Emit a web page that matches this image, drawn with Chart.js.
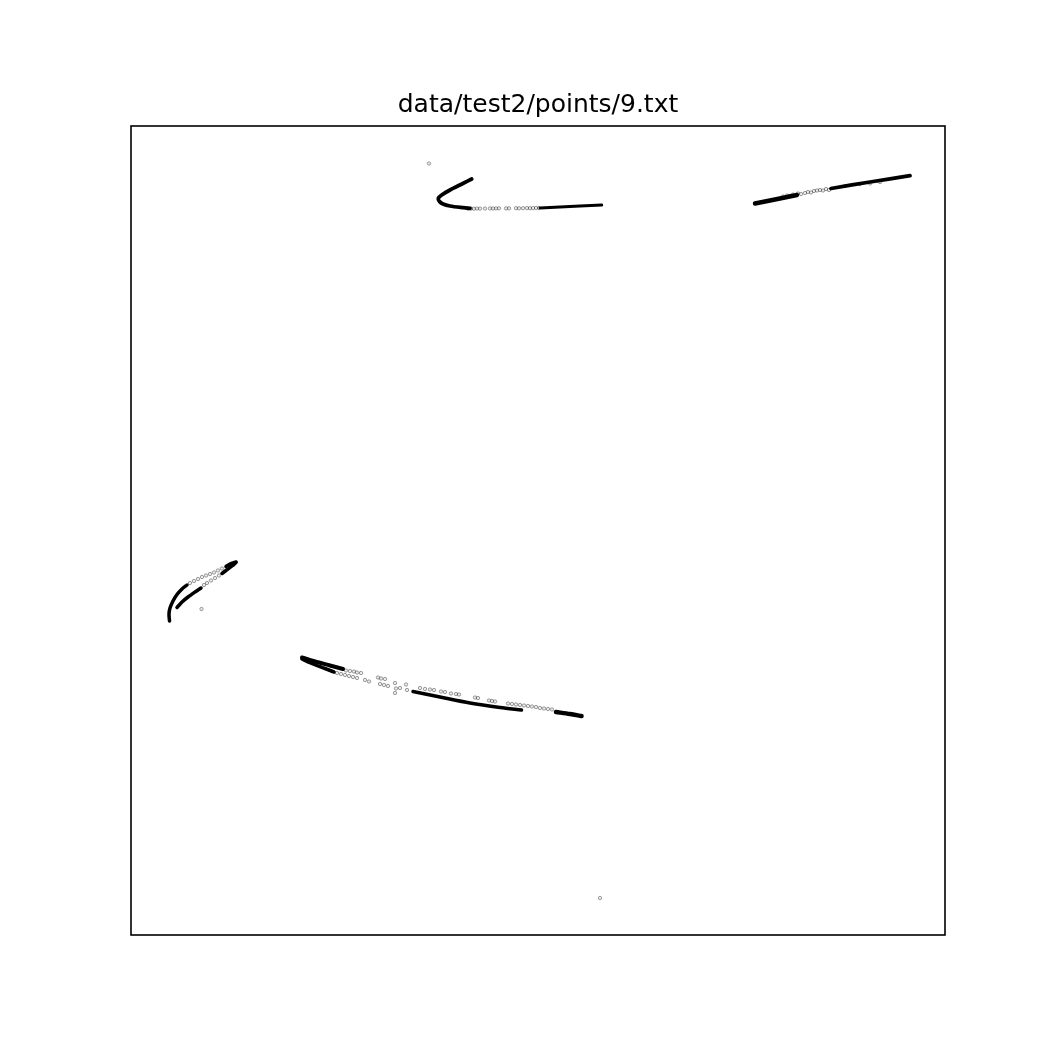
<!DOCTYPE html>
<html>
<head>
<meta charset="utf-8">
<script src="https://cdn.jsdelivr.net/npm/chart.js@4"></script>
<style>
html,body{margin:0;padding:0;background:#fff;}
#wrap{width:1050px;height:1050px;}
</style>
</head>
<body>
<div id="wrap"><canvas id="c" width="1050" height="1050"></canvas></div>
<script>
const chartTitle = "data/test2/points/9.txt";

// Dense runs of points (drawn as thick strokes through their vertices)
const topHook = [[340.7,756],[332.3,751.7],[319,745],[310.7,740],[307.3,736.7],[308.5,733.5],[312,731],[319,729],[332.3,727.3],[339,726.7]];
const topTail = [[409,727],[429,728],[449,729],[470.7,730]];
const rightLow = [[624,731.5],[644,735.5],[666,740]];
const rightHigh = [[700,746.5],[739,753],[779,759.3]];
const leftOuterA = [[105,373],[100,371.5],[95,368.5]];
const leftOuterB = [[56,350],[51,346],[46,340.5],[42,334],[39,327],[38,321],[38.5,314]];
const leftInnerA = [[105,372.5],[101,369],[95,364.5],[91,361.5]];
const leftInnerB = [[70,347],[64,343],[57,338],[51,333],[46,327.5]];
const lowUpper = [[171,277.5],[184,273.5],[199,269.5],[212,266]];
const lowLower = [[171,276],[182,271],[194,266.5],[203,263]];
const lowMid = [[282,243.5],[309,238],[339,232],[369,227.5],[390.5,225]];
const lowEnd = [[425,223],[439,221],[450.5,219]];

// Sparse points
const topSparse = [[337,726.3],[340,726.4],[343,726.3],[346,726.5],[349,726.4],[354,726.5],[359,726.6],[362,726.5],[365,726.6],[368,726.7],[375,726.6],[378,726.7],[385,726.8],[388,726.7],[392,726.8],[396,726.9],[399,726.8],[402,726.9],[405,727],[408,727]];
const rightSparse = [[652,738.5],[656,739.5],[659,739.2],[662,740.5],[667,741.5],[670,741],[674,742],[677,743],[680,742.5],[683,744],[686,744.5],[689,745],[692,744.5],[695,746],[698,745],[714,749],[729,751],[739,751.5],[749,753]];
const leftSparse = [[91,366.5],[87,364.5],[83,362.5],[79,361],[75,359.5],[71,358],[67,356],[63,354],[59,352],[88,359.5],[84,357],[80,354.5],[76,352],[73,350]];
const lowSparse = [[215,264.5],[219,264],[223,263.5],[226,262.5],[230,262],[206,262],[210,261],[214,260],[218,259],[222,258],[226,257],[234,255],[238,253.5],[247,257.5],[250,256.5],[254,256],[249,251],[253,250],[257,249],[264,252],[265,246.5],[269,247],[275,250.5],[276,245],[264,242],[289,247],[294,246],[299,245.5],[303,245],[310,243.5],[314,243],[320,241.5],[325,241],[328,240.5],[344,237.5],[347,237],[358,234.5],[361,234],[364,233.5],[377,231.5],[381,231],[385,230.5],[389,230],[393,229.5],[397,229],[401,228.5],[405,228],[409,227],[413,226.5],[417,226],[421,225.5]];
const strayPoints = [[298,771.5],[469,37],[70.5,326]];

const toXY = a => a.map(p => ({x:p[0], y:p[1]}));

function strokeSet(arr, w){
  return {data: toXY(arr), showLine: true, pointRadius: 0, borderColor: '#000', borderWidth: w,
          borderCapStyle: 'round', borderJoinStyle: 'round', tension: 0.3, fill: false};
}
function dotSet(arr){
  return {data: toXY(arr), showLine: false, pointRadius: 1.7, pointBorderWidth: 0.8,
          pointBorderColor: 'rgba(0,0,0,0.45)', pointBackgroundColor: 'rgba(0,0,0,0.08)'};
}

const frame = {
  id: 'frame',
  afterDraw(chart){
    const a = chart.chartArea, ctx = chart.ctx;
    ctx.save();
    ctx.strokeStyle = '#000';
    ctx.lineWidth = 1.6;
    ctx.strokeRect(a.left, a.top, a.right - a.left, a.bottom - a.top);
    ctx.restore();
  }
};

new Chart(document.getElementById('c'), {
  type: 'scatter',
  data: {
    datasets: [
      strokeSet(topHook, 3.8), strokeSet(topTail, 3),
      strokeSet(rightLow, 4.4), strokeSet(rightHigh, 3.8),
      strokeSet(leftOuterA, 3.5), strokeSet(leftOuterB, 3.5),
      strokeSet(leftInnerA, 3.5), strokeSet(leftInnerB, 3.5),
      strokeSet(lowUpper, 4), strokeSet(lowLower, 3.5),
      strokeSet(lowMid, 3.5), strokeSet(lowEnd, 4.5),
      dotSet(topSparse), dotSet(rightSparse), dotSet(leftSparse), dotSet(lowSparse), dotSet(strayPoints)
    ]
  },
  options: {
    responsive: false,
    animation: false,
    layout: {padding: {left: 131, right: 105, top: 0, bottom: 115}},
    scales: {
      x: {type: 'linear', min: 0, max: 814, display: false},
      y: {type: 'linear', min: 0, max: 809, display: false}
    },
    plugins: {
      legend: {display: false},
      tooltip: {enabled: false},
      title: {display: true, text: chartTitle, color: '#000',
              font: {family: 'DejaVu Sans', size: 25, weight: 'normal', lineHeight: 1.2},
              padding: {top: 90, bottom: 6}}
    }
  },
  plugins: [frame]
});
</script>
</body>
</html>
